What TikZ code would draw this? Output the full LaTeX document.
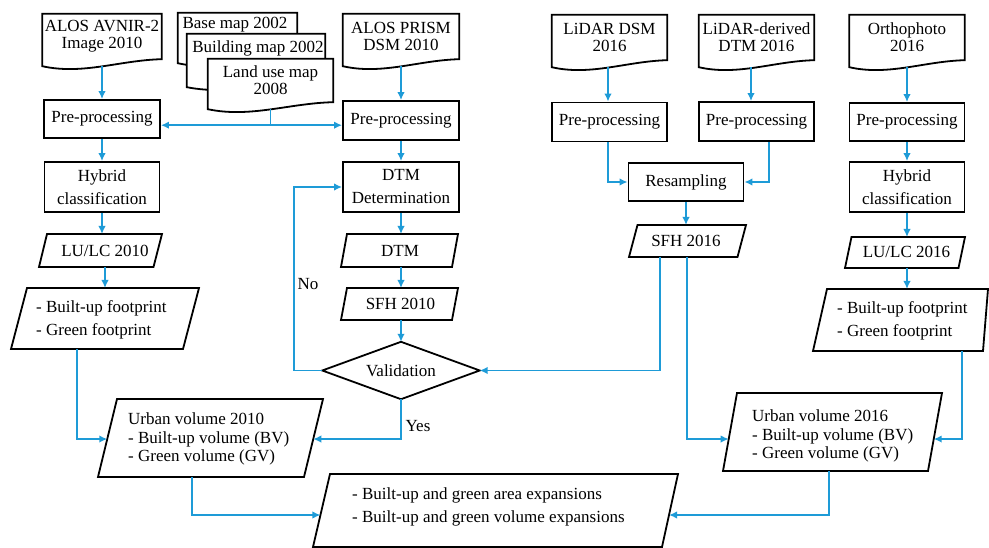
\documentclass[tikz,border=0pt]{standalone}
\usepackage{fontspec}
\setmainfont{Liberation Serif}
\usetikzlibrary{arrows.meta,calc,backgrounds}
\definecolor{fblue}{RGB}{30,155,215}
\tikzset{
  box/.style={draw=black, line width=1.8pt, line join=miter},
  proc/.style={box, rectangle, align=center, inner sep=1pt},
  doc/.style={rectangle, align=center, inner sep=1pt},
  txt/.style={inner sep=0pt, align=center},
  conn/.style={draw=fblue, line width=1.8pt},
  arr/.style={conn, -{Latex[length=8pt,width=7.5pt]}},
  lab/.style={inner sep=1pt},
}
\newcommand\mypgram[7]{%
  \coordinate (#1-tl) at (#3,#6);
  \coordinate (#1-tr) at (#4,#6);
  \coordinate (#1-br) at (#5,#7);
  \coordinate (#1-bl) at (#2,#7);
  \draw[box] (#1-tl) -- (#1-tr) -- (#1-br) -- (#1-bl) -- cycle;}
\newcommand\mydoc[1]{%
  \draw[box, fill=white] (#1.north west) -- (#1.north east) -- (#1.south east)
    .. controls ($(#1.south east)!0.35!(#1.south west)+(0,-1pt)$)
    and ($(#1.south west)!0.34!(#1.south east)+(0,-16pt)$)
    .. ([yshift=-7pt]#1.south west) -- cycle;}
\begin{document}
\begin{tikzpicture}[x=1pt,y=-1pt, font=\fontsize{17}{17}\selectfont]
\useasboundingbox (0,0) rectangle (989,548);

% ---- document sources
\node[doc, minimum width=119pt, minimum height=45pt] (avnir) at (102,36.5) {ALOS AVNIR-2\\Image 2010};
\node[doc, minimum width=119pt, minimum height=43pt] (base) at (237.5,34.5) {};
\node[txt] (baseT) at (235,25) {Base map 2002};
\node[doc, minimum width=138pt, minimum height=46pt] (bldg) at (256,57) {};
\node[txt] (bldgT) at (258,48) {Building map 2002};
\node[doc, minimum width=125pt, minimum height=43pt] (lu) at (270.5,80.5) {Land use map\\2008};
\node[doc, minimum width=116pt, minimum height=45pt] (prism) at (401,36.5) {ALOS PRISM\\DSM 2010};
\node[doc, minimum width=115pt, minimum height=45pt] (ldsm) at (609.5,37.5) {LiDAR DSM\\2016};
\node[doc, minimum width=115pt, minimum height=45pt] (ldtm) at (756.5,37.5) {LiDAR-derived\\DTM 2016};
\node[doc, minimum width=115pt, minimum height=45pt] (ortho) at (907,37.5) {Orthophoto\\2016};
\begin{pgfonlayer}{background}
  \mydoc{avnir}\mydoc{base}\mydoc{bldg}\mydoc{lu}
  \mydoc{prism}\mydoc{ldsm}\mydoc{ldtm}\mydoc{ortho}
\end{pgfonlayer}

% ---- process boxes
\node[proc, minimum width=116pt, minimum height=38pt] (preA) at (102,119) {Pre-processing};
\node[proc, minimum width=115pt, minimum height=50pt] (hybA) at (102,187) {Hybrid\\[6pt]classification};
\node[proc, minimum width=116pt, minimum height=39pt] (preB) at (401,120.5) {Pre-processing};
\node[proc, minimum width=116pt, minimum height=50pt] (detB) at (401,187) {DTM\\[6pt]Determination};
\node[proc, minimum width=115pt, minimum height=39pt] (preC) at (609.5,122) {Pre-processing};
\node[proc, minimum width=115pt, minimum height=39pt] (preD) at (756.5,121.5) {Pre-processing};
\node[proc, minimum width=115pt, minimum height=38pt] (resamp) at (686,182) {Resampling};
\node[proc, minimum width=115pt, minimum height=38pt] (preE) at (907,122) {Pre-processing};
\node[proc, minimum width=115pt, minimum height=50pt] (hybE) at (907,187) {Hybrid\\[6pt]classification};

% ---- parallelograms (data)
\mypgram{lulcA}{39}{47}{162}{153.5}{234}{267}
\node[txt] (lulcA) at (105,250.5) {LU/LC 2010};
\mypgram{footA}{11}{27}{199}{183}{288}{349}
\node[txt, anchor=west, align=left] (footA) at (36,319.5) {- Built-up footprint\\[6pt]- Green footprint};
\mypgram{dtm}{341}{347}{458}{452}{234}{267}
\node[txt] (dtm) at (400,250.5) {DTM};
\mypgram{sfhA}{341}{347}{458}{452}{288}{320}
\node[txt] (sfhA) at (400.5,304) {SFH 2010};
\mypgram{sfhB}{629}{637.5}{746}{737.5}{225}{257}
\node[txt] (sfhB) at (686,241) {SFH 2016};
\mypgram{lulcE}{845}{851.5}{965}{958.5}{237}{268}
\node[txt] (lulcE) at (906.5,252) {LU/LC 2016};
\mypgram{footE}{813}{827}{988}{983}{289}{351}
\node[txt, anchor=west, align=left] (footE) at (837,320.5) {- Built-up footprint\\[6pt]- Green footprint};
\mypgram{uA}{98}{117}{323}{304}{399}{477}
\node[txt, anchor=west, align=left] (uA) at (128,439) {Urban volume 2010\\[1.5pt]- Built-up volume (BV)\\[1.5pt]- Green volume (GV)};
\mypgram{uB}{723}{737}{942}{928}{393}{471}
\node[txt, anchor=west, align=left] (uB) at (752,436) {Urban volume 2016\\[1.5pt]- Built-up volume (BV)\\[1.5pt]- Green volume (GV)};
\mypgram{fin}{313}{330}{678}{662}{474}{547}
\node[txt, anchor=west, align=left] (fin) at (352,506.5) {- Built-up and green area expansions\\[6pt]- Built-up and green volume expansions};

% ---- decision
\node[txt, minimum width=157pt, minimum height=57pt] (val) at (401,370.5) {Validation};
\draw[box] (val.west) -- (val.north) -- (val.east) -- (val.south) -- cycle;

% ---- labels
\node[lab] (no) at (308,284) {No};
\node[lab] (yes) at (418,426) {Yes};

% ---- connectors
\draw[arr] ([yshift=-7pt]avnir.south) -- (preA.north);
\draw[arr] (preA.south) -- (hybA.north);
\draw[arr] (hybA.south) -- (lulcA-tl -| hybA.south);
\draw[arr] (lulcA-bl -| lulcA) -- (footA-tl -| lulcA);
\draw[arr] ([xshift=66pt]footA-bl) |- ($(uA-tl)!0.513!(uA-bl)$);

\draw[conn] ([yshift=-7pt]lu.south) -- ++(0,-16pt) coordinate (j);
\draw[arr] (j) -- (j -| preA.east);
\draw[arr] (j) -- (j -| preB.west);

\draw[arr] ([yshift=-7pt]prism.south) -- (preB.north);
\draw[arr] (preB.south) -- (detB.north);
\draw[arr] (detB.south) -- (dtm-tl -| detB.south);
\draw[arr] (dtm-bl -| detB.south) -- (sfhA-tl -| detB.south);
\draw[arr] (sfhA-bl -| detB.south) -- (val.north);
\draw[arr] (val.west) -- ++(-28pt,0) |- (detB.west);
\draw[arr] (val.south) |- ($(uA-tr)!0.513!(uA-br)$);

\draw[arr] ([xshift=-1.5pt,yshift=-7pt]ldsm.south) -- ([xshift=-1.5pt]preC.north);
\draw[arr] ([xshift=-5.5pt,yshift=-7pt]ldtm.south) -- ([xshift=-5.5pt]preD.north);
\draw[arr] ([xshift=-1.5pt]preC.south) |- (resamp.west);
\draw[arr] ([xshift=12.5pt]preD.south) |- (resamp.east);
\draw[arr] (resamp.south) -- (sfhB-tl -| resamp.south);
\draw[arr] ([xshift=31pt]sfhB-bl) |- (val.east);
\draw[arr] ([xshift=58pt]sfhB-bl) |- ($(uB-tl)!0.59!(uB-bl)$);

\draw[arr] ([yshift=-7pt]ortho.south) -- (preE.north);
\draw[arr] (preE.south) -- (hybE.north);
\draw[arr] (hybE.south) -- (lulcE-tl -| hybE.south);
\draw[arr] (lulcE-bl -| hybE.south) -- (footE-tl -| hybE.south);
\draw[arr] ([xshift=-21pt]footE-br) |- ($(uB-tr)!0.59!(uB-br)$);

\draw[arr] ([xshift=94pt]uA-bl) |- ($(fin-tl)!0.5616!(fin-bl)$);
\draw[arr] ([xshift=106pt]uB-bl) |- ($(fin-tr)!0.5616!(fin-br)$);
\end{tikzpicture}
\end{document}
